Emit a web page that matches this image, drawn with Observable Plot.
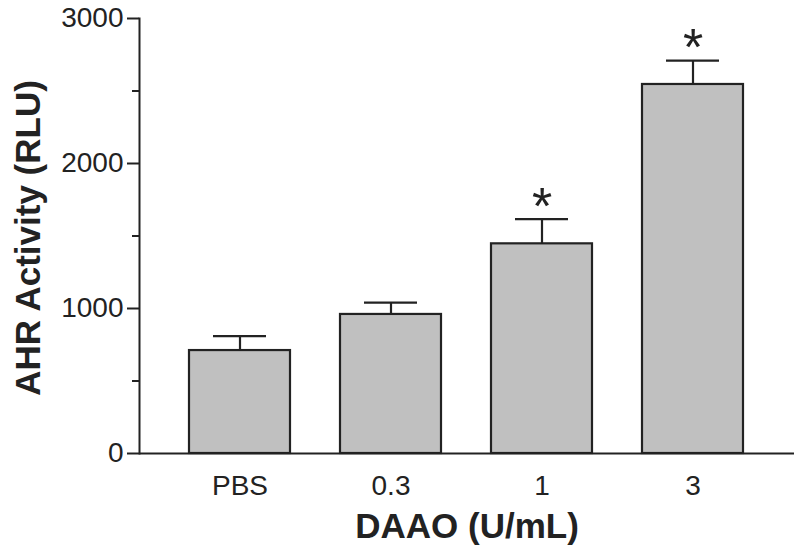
<!DOCTYPE html>
<html><head><meta charset="utf-8">
<script src="https://cdn.jsdelivr.net/npm/d3@7"></script>
<script src="https://cdn.jsdelivr.net/npm/@observablehq/plot@0.6"></script>
<style>body{margin:0;background:#fff}</style>
</head><body><div id="chart"></div>
<script>
const groups = ["PBS", "0.3", "1", "3"];
const means = [710, 959, 1446, 2545];
const errors = [99, 82, 170, 165];
const sigMarks = ["", "", "*", "*"];
const majorTicks = [0, 1000, 2000, 3000];
const minorTicks = [500, 1500, 2500];
const xTitle = "DAAO (U/mL)";
const yTitle = "AHR Activity (RLU)";

const data = groups.map((g, i) => ({group: g, mean: means[i], upper: means[i] + errors[i], sig: sigMarks[i]}));

const ink = "#222";
const chart = Plot.plot({
  width: 800,
  height: 557,
  marginLeft: 139,
  marginRight: 6,
  marginTop: 18,
  marginBottom: 104,
  style: {fontFamily: "'Liberation Sans', Arial, sans-serif", background: "white", color: ink, overflow: "visible"},
  x: {domain: groups, padding: 0.33},
  y: {domain: [0, 3000]},
  marks: [
    Plot.barY(data, {x: "group", y: "mean", fill: "#c0c0c0", stroke: ink, strokeWidth: 2.2}),
    Plot.ruleX(data, {x: "group", y1: "mean", y2: "upper", stroke: ink, strokeWidth: 2.2}),
    Plot.tickY(data, {x: "group", y: "upper", inset: 24, stroke: ink, strokeWidth: 2.2}),
    Plot.text(data, {x: "group", y: "upper", text: "sig", fontSize: 52, dy: -12, fill: ink}),
    Plot.frame({anchor: "left", stroke: ink, strokeWidth: 2}),
    Plot.ruleY([0], {stroke: ink, strokeWidth: 2}),
    Plot.axisY({ticks: majorTicks, tickSize: 12, tickPadding: 4, fontSize: 28, tickFormat: d => String(d), label: null, strokeWidth: 2}),
    Plot.axisY({ticks: minorTicks, tickSize: 7, tickFormat: () => "", label: null, strokeWidth: 2, strokeOpacity: 1}),
    Plot.axisX({tickSize: 0, tickPadding: 22, fontSize: 28, label: null}),
    Plot.text([xTitle], {frameAnchor: "bottom", dy: 84, fontSize: 35, fontWeight: "bold", fill: ink}),
    Plot.text([yTitle], {frameAnchor: "left", textAnchor: "middle", rotate: -90, dx: -111, dy: 2, fontSize: 35, fontWeight: "bold", fill: ink})
  ]
});
document.getElementById("chart").appendChild(chart);
</script>
</body></html>
